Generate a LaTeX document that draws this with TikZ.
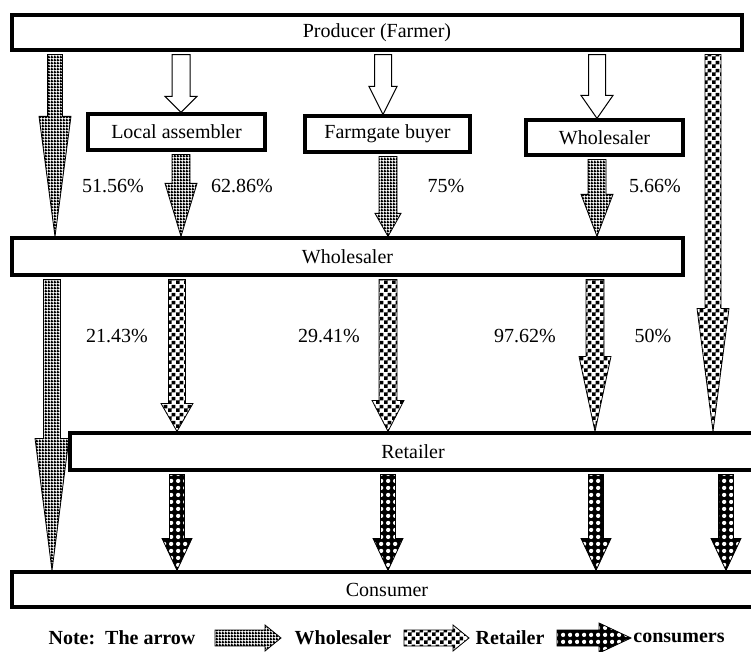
\documentclass[tikz,border=0pt]{standalone}
\usepackage{fontspec}
\setmainfont{Liberation Serif}
\usetikzlibrary{patterns,calc}

% fill patterns of the three kinds of flow
\pgfdeclarepatternformonly{wgrid}{\pgfqpoint{0pt}{0pt}}{\pgfqpoint{3pt}{3pt}}{\pgfqpoint{3pt}{3pt}}{%
  \pgfsetlinewidth{1.9pt}
  \pgfpathmoveto{\pgfqpoint{0pt}{0.95pt}}\pgfpathlineto{\pgfqpoint{3pt}{0.95pt}}
  \pgfpathmoveto{\pgfqpoint{0.95pt}{0pt}}\pgfpathlineto{\pgfqpoint{0.95pt}{3pt}}
  \pgfusepath{stroke}}
\pgfdeclarepatternformonly{rcheck}{\pgfqpoint{0pt}{0pt}}{\pgfqpoint{8pt}{8pt}}{\pgfqpoint{8pt}{8pt}}{%
  \pgfpathrectangle{\pgfqpoint{0pt}{0pt}}{\pgfqpoint{4pt}{4pt}}
  \pgfpathrectangle{\pgfqpoint{4pt}{4pt}}{\pgfqpoint{4pt}{4pt}}
  \pgfusepath{fill}}
\pgfdeclarepatternformonly{cdots}{\pgfqpoint{0pt}{0pt}}{\pgfqpoint{7pt}{7pt}}{\pgfqpoint{7pt}{7pt}}{%
  \pgfpathcircle{\pgfqpoint{3.5pt}{3.5pt}}{2.4pt}
  \pgfusepath{fill}}

% block arrow: style, x, from, to, head length, shaft half width, head half width
\newcommand{\flowarrow}[7]{%
  \path[#1] let \p1=(#3.south), \p2=(#4.north) in
    (#2pt-#6pt,\y1-3pt) -- (#2pt+#6pt,\y1-3pt) -- (#2pt+#6pt,\y2+#5pt)
    -- (#2pt+#7pt,\y2+#5pt) -- (#2pt,\y2) -- (#2pt-#7pt,\y2+#5pt)
    -- (#2pt-#6pt,\y2+#5pt) -- cycle;}
% small arrow of the note: style, x from, x to, y, head length, head half height
\newcommand{\legarrow}[6]{%
  \path[#1] (#2,#4-8) -- (#3-#5,#4-8) -- (#3-#5,#4-#6) -- (#3,#4)
    -- (#3-#5,#4+#6) -- (#3-#5,#4+8) -- (#2,#4+8) -- cycle;}

\begin{document}
\begin{tikzpicture}[x=1pt,y=-1pt,
    every node/.style={font=\fontsize{20}{24}\selectfont},
    box/.style={draw,rectangle,line width=3.2pt,fill=white,inner sep=0pt},
    hollow/.style={draw,line width=1pt,fill=white},
    wsale/.style={draw,line width=0.8pt,pattern=wgrid},
    retail/.style={draw,line width=0.8pt,pattern=rcheck},
    cons/.style={draw,line width=0.8pt,preaction={fill=black},pattern=cdots,pattern color=white},
    note/.style={font=\fontsize{20}{24}\selectfont\bfseries}]
  \useasboundingbox (0,0) rectangle (751,652);

  \node[box,minimum width=730pt,minimum height=35pt] (producer) at (377,32.5) {Producer (Farmer)};
  \node[box,minimum width=177pt,minimum height=36pt] (assembler) at (176.5,132) {Local assembler};
  \node[box,minimum width=165pt,minimum height=36pt] (farmgate) at (387.5,134) {Farmgate buyer};
  \node[box,minimum width=157pt,minimum height=35pt] (wsmall) at (604.5,137.5) {Wholesaler};
  \node[box,minimum width=671pt,minimum height=37pt] (wholesaler) at (347.5,256.5) {Wholesaler};
  \node[box,minimum width=686pt,minimum height=37pt] (retailer) at (413,451.5) {Retailer};
  \node[box,minimum width=750pt,minimum height=35pt] (consumer) at (387,589.5) {Consumer};

  \flowarrow{wsale}{55}{producer}{wholesaler}{120}{7.5}{16}
  \flowarrow{hollow}{181}{producer}{assembler}{16}{9}{16}
  \flowarrow{hollow}{383}{producer}{farmgate}{28}{8.5}{14}
  \flowarrow{hollow}{597}{producer}{wsmall}{23}{8.5}{16}
  \flowarrow{retail}{713}{producer}{retailer}{123}{8}{16}
  \flowarrow{wsale}{181}{assembler}{wholesaler}{53}{9}{16}
  \flowarrow{wsale}{388}{farmgate}{wholesaler}{23}{9}{13}
  \flowarrow{wsale}{597}{wsmall}{wholesaler}{42}{9}{16}
  \flowarrow{wsale}{52}{wholesaler}{consumer}{132}{8.5}{17}
  \flowarrow{retail}{177}{wholesaler}{retailer}{28}{8.5}{16}
  \flowarrow{retail}{388}{wholesaler}{retailer}{31}{9}{16}
  \flowarrow{retail}{595}{wholesaler}{retailer}{75}{9}{16}
  \foreach \col in {177,388,596,726}
    \flowarrow{cons}{\col}{retailer}{consumer}{32}{7.5}{15};

  \node (p1) at (113,186) {51.56\%};
  \node (p2) at (242,186) {62.86\%};
  \node (p3) at (446,186) {75\%};
  \node (p4) at (655,186) {5.66\%};
  \node (p5) at (117,336) {21.43\%};
  \node (p6) at (329,336) {29.41\%};
  \node (p7) at (525,336) {97.62\%};
  \node (p8) at (653,336) {50\%};

  % note
  \node[note] (n0) at (122,638) {Note:\ \ The arrow};
  \legarrow{wsale}{215}{281}{638}{16}{13}
  \node[note] (n1) at (343,638) {Wholesaler};
  \legarrow{retail}{404}{469}{638}{16}{13}
  \node[note] (n2) at (510,638) {Retailer};
  \legarrow{cons}{557}{631}{638}{32}{15}
  \node[note] (n3) at (679,638) {consumers};
\end{tikzpicture}
\end{document}
